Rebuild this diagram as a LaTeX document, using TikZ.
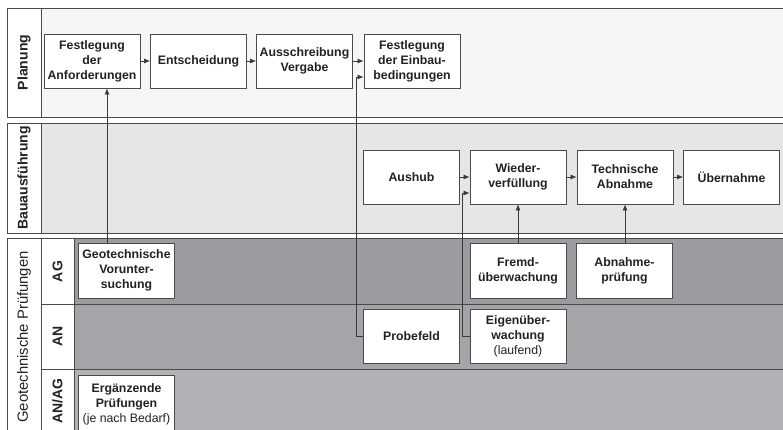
\documentclass[tikz,border=0pt]{standalone}
\usepackage{fontspec}
\setmainfont{Liberation Sans}
\usetikzlibrary{arrows.meta,calc}
\definecolor{planfill}{HTML}{F6F6F6}
\definecolor{baufill}{HTML}{E5E6E8}
\definecolor{agfill}{HTML}{9B9CA0}
\definecolor{anfill}{HTML}{A4A5A9}
\definecolor{anagfill}{HTML}{B1B2B6}
\definecolor{bandline}{HTML}{4A4A4A}
\definecolor{boxline}{HTML}{4A4A4A}
\definecolor{txt}{HTML}{222222}
\definecolor{arrline}{HTML}{3A3A3A}
\begin{document}
\begin{tikzpicture}[x=1pt,y=-1pt,
  band/.style={draw=bandline, line width=0.9pt},
  pbox/.style={draw=boxline, fill=white, line width=0.8pt, minimum width=96pt, minimum height=54pt,
    inner sep=0pt, align=center, text=txt, font=\fontsize{12.3}{15}\selectfont\bfseries},
  arr/.style={draw=arrline, line width=0.7pt, -{Latex[length=6pt,width=5pt]}},
  vlbl/.style={rotate=90, text=txt, inner sep=0pt, font=\fontsize{14}{16}\selectfont\bfseries},
]
\useasboundingbox (0,0) rectangle (783,430);
\fill[white] (0,0) rectangle (783,430);

% Planung band
\draw[band, fill=white] (7,8) rectangle (41,117);
\draw[band, fill=planfill] (41,8) rectangle (786,117);
\node[vlbl] (lPlan) at (24,62.5) {Planung};

% Bauausfuehrung band
\draw[band, fill=white] (7,123) rectangle (41,233);
\draw[band, fill=baufill] (41,123) rectangle (786,233);
\node[vlbl] (lBau) at (24,178) {Bauausführung};

% Geotechnische Pruefungen band
\draw[band, fill=white] (7,238) rectangle (41,434);
\draw[band, fill=white] (41,238) rectangle (74,304);
\draw[band, fill=white] (41,304) rectangle (74,369);
\draw[band, fill=white] (41,369) rectangle (74,434);
\draw[band, fill=agfill] (74,238) rectangle (786,304);
\draw[band, fill=anfill] (74,304) rectangle (786,369);
\draw[band, fill=anagfill] (74,369) rectangle (786,434);
\node[vlbl, font=\fontsize{14.8}{16}\selectfont] (lGeo) at (24,337) {Geotechnische Prüfungen};
\node[vlbl] (lAG) at (57.5,271.5) {AG};
\node[vlbl] (lAN) at (57.5,336.5) {AN};
\node[vlbl] (lANAG) at (57.5,401) {AN/AG};

% Planung boxes
\node[pbox] (anf) at (92,61) {Festlegung\\der\\Anforderungen};
\node[pbox] (ent) at (198.5,61) {Entscheidung};
\node[pbox] (aus) at (304.5,61) {Ausschreibung\\Vergabe};
\node[pbox] (ein) at (412,61) {Festlegung\\der Einbau-\\bedingungen};

% Bau boxes
\node[pbox] (aush) at (411.5,177) {Aushub};
\node[pbox] (wied) at (518,177) {Wieder-\\verfüllung};
\node[pbox] (tech) at (625,177) {Technische\\Abnahme};
\node[pbox] (uebn) at (731.5,177) {Übernahme};

% Geotech boxes
\node[pbox, minimum height=55pt] (vor) at (126.5,270.5) {Geotechnische\\Vorunter-\\suchung};
\node[pbox, minimum height=55pt] (frem) at (518,270.5) {Fremd-\\überwachung};
\node[pbox, minimum height=55pt] (abpr) at (624.5,270.5) {Abnahme-\\prüfung};
\node[pbox] (prob) at (411.5,336) {Probefeld};
\node[pbox] (eigen) at (518,336) {Eigenüber-\\wachung\\{\mdseries (laufend)}};
\node[pbox, minimum height=58pt] (ergz) at (126.5,404) {Ergänzende\\Prüfungen\\{\mdseries (je nach Bedarf)}};

% connectors
\draw[arr] (anf) -- (ent);
\draw[arr] (ent) -- (aus);
\draw[arr] (aus) -- (ein);
\draw[arr] (aush) -- (wied);
\draw[arr] (wied) -- (tech);
\draw[arr] (tech) -- (uebn);
\draw[arr] (frem) -- (wied);
\draw[arr] (abpr.north -| tech.south) -- (tech.south);

\coordinate (vx) at (107,0);
\draw[arr] (vor.north -| vx) -- (anf.south -| vx);

\coordinate (k1) at (356,77);
\draw[arr] (prob.west) -| (k1) -- (k1 -| ein.west);

\coordinate (k2) at (462,193);
\draw[arr] (eigen.west) -| (k2) -- (k2 -| wied.west);
\end{tikzpicture}
\end{document}
